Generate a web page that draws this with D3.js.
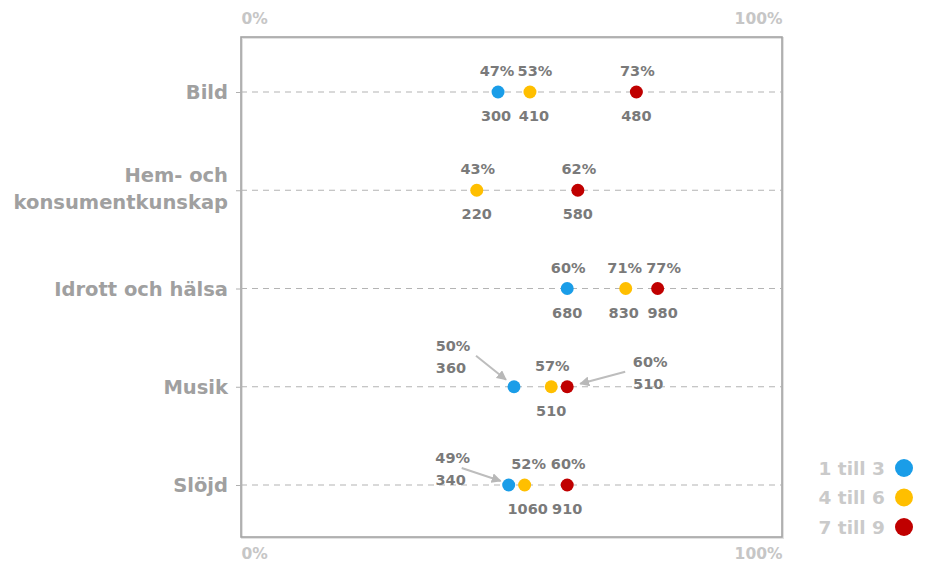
<!DOCTYPE html>
<html>
<head>
<meta charset="utf-8">
<script src="https://cdn.jsdelivr.net/npm/d3@7"></script>
<style>
  html, body { margin: 0; padding: 0; background: #ffffff; }
  svg { display: block; font-family: "DejaVu Sans", sans-serif; font-weight: bold; }
</style>
</head>
<body>
<svg id="chart" width="930" height="564"></svg>
<script>
// Subjects (rows) and age groups (series)
const categories = ["Bild", "Hem- och konsumentkunskap", "Idrott och hälsa", "Musik", "Slöjd"];
const categoryLines = [["Bild"], ["Hem- och", "konsumentkunskap"], ["Idrott och hälsa"], ["Musik"], ["Slöjd"]];
const seriesNames = ["1 till 3", "4 till 6", "7 till 9"];
const seriesColors = ["#1a9de8", "#ffbf00", "#c00000"];

// Share (%) per subject for each age group; null = no value
const pct1to3 = [47, null, 60, 50, 49];
const pct4to6 = [53, 43, 71, 57, 52];
const pct7to9 = [73, 62, 77, 60, 60];

// Number of answers per subject for each age group
const n1to3 = [300, null, 680, 360, 340];
const n4to6 = [410, 220, 830, 510, 1060];
const n7to9 = [480, 580, 980, 510, 910];

const axisTicks = [0, 100];

const pctSeries = [pct1to3, pct4to6, pct7to9];
const nSeries = [n1to3, n4to6, n7to9];

// Labels that sit beside the dot with a pointer arrow instead of above/below
const callouts = [
  { cat: 3, s: 0, tx: -61, ty: -36, ax: -38, ay: -31, bx: -8, by: -7 },
  { cat: 3, s: 2, tx: 83, ty: -20, ax: 58, ay: -15, bx: 13, by: -3 },
  { cat: 4, s: 0, tx: -56, ty: -22, ax: -47, ay: -17, bx: -8, by: -4 }
];

// Small horizontal shifts that keep neighbouring labels apart
const labelShifts = [
  { cat: 0, s: 0, dx: -2 },
  { cat: 0, s: 1, dx: 4 },
  { cat: 2, s: 1, dx: -2 },
  { cat: 2, s: 2, dx: 5 },
  { cat: 4, s: 1, dx: 3 }
];

const svg = d3.select("#chart");
const plotLeft = 241, plotRight = 782, plotTop = 37, plotBottom = 537;

const x = d3.scaleLinear().domain([0, 100]).range([248, 780]);
const y = d3.scalePoint().domain(categories).range([92, 485]);

svg.append("defs").append("marker")
  .attr("id", "arrowhead")
  .attr("viewBox", "0 0 10 10")
  .attr("refX", 9).attr("refY", 5)
  .attr("markerWidth", 5).attr("markerHeight", 5)
  .attr("orient", "auto")
  .append("path").attr("d", "M0,0 L10,5 L0,10 Z").attr("fill", "#b8b8b8");

// Plot frame
svg.append("rect")
  .attr("x", plotLeft + 1).attr("y", plotTop + 1)
  .attr("width", plotRight - plotLeft).attr("height", plotBottom - plotTop)
  .attr("fill", "none").attr("stroke", "#e2e2e2").attr("stroke-width", 2);
svg.append("rect")
  .attr("x", plotLeft).attr("y", plotTop)
  .attr("width", plotRight - plotLeft).attr("height", plotBottom - plotTop)
  .attr("fill", "none").attr("stroke", "#a4a4a4").attr("stroke-width", 1.6);

// Percentage axes, top and bottom; labels sit at the frame corners
function pctAxis(g, axis) {
  g.call(axis.tickValues(axisTicks).tickFormat(d => d + "%").tickSize(0));
  g.select(".domain").remove();
  g.selectAll("text")
    .attr("fill", "#c6c6c6")
    .style("font-family", "DejaVu Sans, sans-serif")
    .style("font-weight", "bold")
    .style("font-size", "15.5px")
    .attr("text-anchor", d => d === 0 ? "start" : "end")
    .attr("dx", d => d === 0 ? plotLeft - x(0) : plotRight - x(100));
}
svg.append("g").attr("transform", `translate(0,${plotTop - 10})`).call(g => pctAxis(g, d3.axisTop(x)));
svg.append("g").attr("transform", `translate(0,${plotBottom + 8})`).call(g => pctAxis(g, d3.axisBottom(x)));

// Category axis with short ticks
const yAxis = svg.append("g").attr("transform", `translate(${plotLeft},0)`)
  .call(d3.axisLeft(y).tickSize(5).tickFormat(""));
yAxis.select(".domain").remove();
yAxis.selectAll("line").attr("stroke", "#b0b0b0");

// Category labels
categories.forEach((c, i) => {
  const lines = categoryLines[i];
  const lh = 27;
  const y0 = y(c) + 7 - (lines.length - 1) * lh / 2 - (lines.length > 1 ? 2 : 0);
  const t = svg.append("text")
    .attr("text-anchor", "end")
    .attr("fill", "#a0a0a0")
    .style("font-size", "19.5px");
  lines.forEach((ln, k) => {
    t.append("tspan").attr("x", 228).attr("y", y0 + k * lh).text(ln);
  });
});

// Dashed row lines
svg.append("g").selectAll("line")
  .data(categories)
  .join("line")
  .attr("x1", plotLeft).attr("x2", plotRight)
  .attr("y1", d => y(d)).attr("y2", d => y(d))
  .attr("stroke", "#b4b4b4").attr("stroke-width", 1.2)
  .attr("stroke-dasharray", "6,5");

// Points
const points = [];
categories.forEach((c, i) => {
  pctSeries.forEach((vals, s) => {
    if (vals[i] != null) points.push({ cat: i, s, pct: vals[i], n: nSeries[s][i] });
  });
});

svg.append("g").selectAll("circle")
  .data(points)
  .join("circle")
  .attr("cx", d => x(d.pct))
  .attr("cy", d => y(categories[d.cat]))
  .attr("r", 6.5)
  .attr("fill", d => seriesColors[d.s]);

// Value labels
const labels = svg.append("g").attr("fill", "#7a7a7a").style("font-size", "14.5px");
points.forEach(d => {
  const cx = x(d.pct), cy = y(categories[d.cat]);
  const co = callouts.find(c => c.cat === d.cat && c.s === d.s);
  if (co) {
    labels.append("text").attr("x", cx + co.tx).attr("y", cy + co.ty)
      .attr("text-anchor", "middle").text(d.pct + "%");
    labels.append("text").attr("x", cx + co.tx - 2).attr("y", cy + co.ty + 22)
      .attr("text-anchor", "middle").text(d.n);
    svg.append("line")
      .attr("x1", cx + co.ax).attr("y1", cy + co.ay)
      .attr("x2", cx + co.bx).attr("y2", cy + co.by)
      .attr("stroke", "#bdbdbd").attr("stroke-width", 2)
      .attr("marker-end", "url(#arrowhead)");
  } else {
    const sh = labelShifts.find(c => c.cat === d.cat && c.s === d.s);
    const dx = sh ? sh.dx : 0;
    labels.append("text").attr("x", cx + 1 + dx).attr("y", cy - 16)
      .attr("text-anchor", "middle").text(d.pct + "%");
    labels.append("text").attr("x", cx + dx).attr("y", cy + 29)
      .attr("text-anchor", "middle").text(d.n);
  }
});

// Legend
const legend = svg.append("g");
seriesNames.forEach((name, i) => {
  const ly = 468 + i * 29.5;
  legend.append("text")
    .attr("x", 885).attr("y", ly + 6.5)
    .attr("text-anchor", "end")
    .attr("fill", "#cacaca")
    .style("font-size", "18.5px")
    .text(name);
  legend.append("circle")
    .attr("cx", 904).attr("cy", ly).attr("r", 9)
    .attr("fill", seriesColors[i]);
});
</script>
</body>
</html>
